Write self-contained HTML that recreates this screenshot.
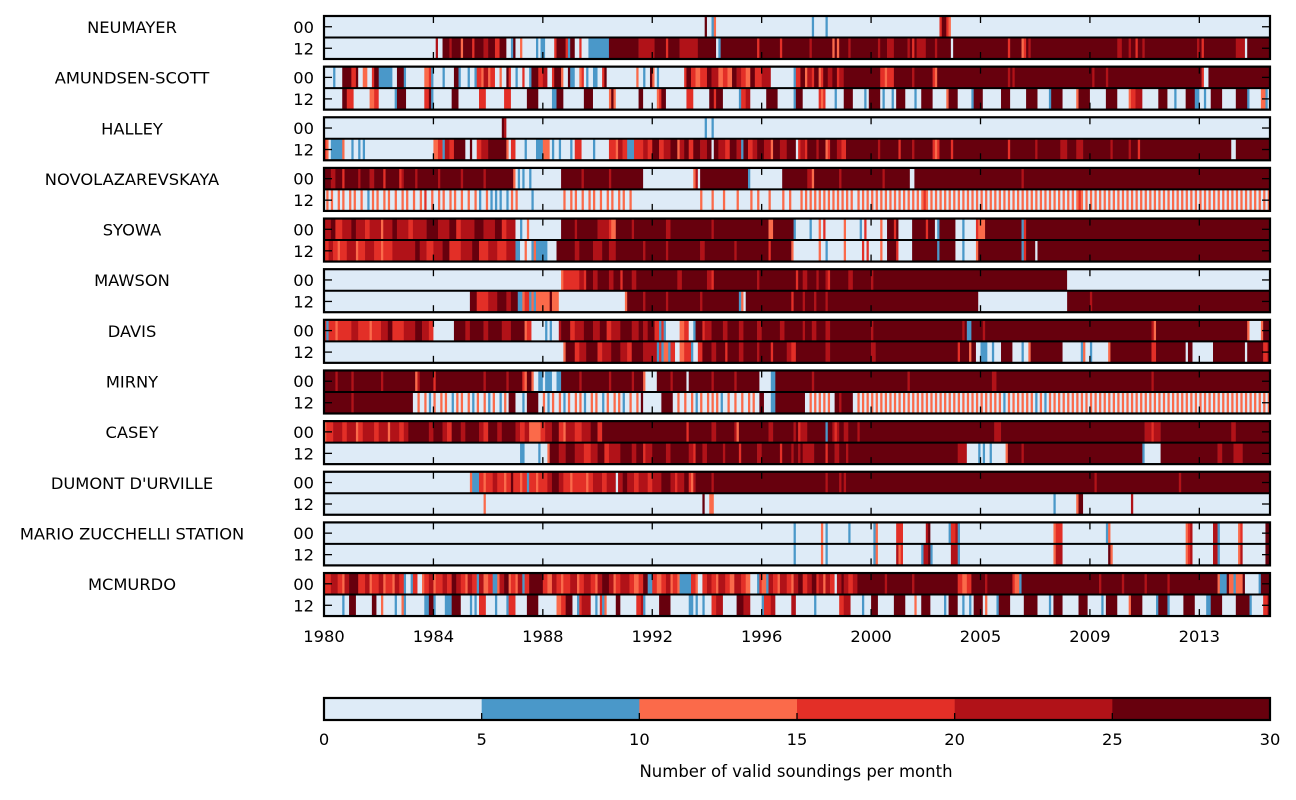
<!DOCTYPE html>
<html><head><meta charset="utf-8"><style>
html,body{margin:0;padding:0;background:#fff;}
svg{display:block;font-family:"DejaVu Sans","Liberation Sans",sans-serif;}
</style></head><body>
<svg id="chart" width="1296" height="800" viewBox="0 0 1296 800" xmlns="http://www.w3.org/2000/svg">
<g id="panels"></g>
<g id="xaxis"></g>
<g id="cbar"></g>
<text x="796" y="777" text-anchor="middle" font-size="16.5">Number of valid soundings per month</text>
</svg>
<script>
const stations = ["NEUMAYER","AMUNDSEN-SCOTT","HALLEY","NOVOLAZAREVSKAYA","SYOWA","MAWSON","DAVIS","MIRNY","CASEY","DUMONT D'URVILLE","MARIO ZUCCHELLI STATION","MCMURDO"];
const rowLabels = ["00","12"];
const xTickLabels = ["1980","1984","1988","1992","1996","2000","2005","2009","2013"];
const xTickMonths = [0,48,96,144,192,240,288,336,384];
const totalMonths = 415;
const binColors = ["#deebf7","#4a98c9","#fb6a4a","#e32f27","#b11218","#67000d"];
const cbarTicks = [0,5,10,15,20,25,30];
// run segments: "startMonth bin" (value holds until next start)
const series00 = [
"0 0,167 5,168 0,170 1,171 2,172 0,214 1,215 0,220 1,221 0,270 3,271 5,273 3,274 2,275 0",
"0 0,4 1,5 0,8 5,12 3,14 5,15 0,17 2,19 0,21 3,22 5,24 1,30 0,32 5,35 1,36 0,44 2,46 3,47 1,48 0,52 1,53 0,57 5,59 1,60 0,63 1,64 0,66 1,67 3,69 2,70 4,72 2,73 3,75 0,77 2,78 0,80 5,81 3,82 0,84 1,85 0,87 3,88 0,90 1,91 5,94 3,96 4,98 0,100 3,101 5,104 2,105 0,107 5,108 1,110 0,112 2,113 3,114 0,115 1,116 0,118 1,120 0,122 3,123 5,124 0,137 2,138 0,140 1,141 0,143 5,144 2,145 0,146 1,147 0,158 3,159 5,161 3,163 2,165 3,168 5,170 4,173 2,175 3,177 2,179 5,181 4,183 3,185 2,187 5,189 3,192 4,196 0,206 1,207 3,209 5,211 2,212 4,214 3,215 5,217 2,218 3,219 5,221 4,223 5,225 3,226 4,228 5,244 3,246 2,247 3,250 5,258 4,259 5,267 3,268 2,269 5,300 4,301 5,302 4,303 5,337 4,338 5,343 4,344 5,385 3,386 0,388 5",
"0 0,78 5,79 4,80 0,167 1,168 0,170 1,171 0",
"0 5,3 4,5 5,8 3,9 5,15 4,16 5,20 4,22 5,26 3,27 5,33 3,34 4,35 5,40 4,41 5,50 4,51 5,60 4,61 5,70 4,71 5,83 2,84 0,85 1,86 0,87 1,88 0,90 1,91 0,104 5,113 4,114 5,125 4,126 5,140 0,162 2,163 4,164 0,165 5,186 1,187 0,201 5,212 4,214 2,215 5,226 4,227 5,245 4,246 5,257 0,259 5,306 4,307 5",
"0 4,3 5,5 3,8 4,12 5,14 4,18 3,20 4,25 2,26 4,30 5,32 4,37 3,39 4,45 5,50 4,55 5,58 3,60 4,66 5,70 4,75 5,78 3,80 4,84 0,86 1,87 0,89 2,90 0,104 5,110 4,111 5,120 4,125 3,126 2,128 5,135 4,136 5,150 4,152 5,170 4,171 5,195 2,197 5,206 1,207 0,213 1,214 0,217 2,218 0,219 3,220 0,228 2,229 0,235 1,236 0,237 3,238 0,244 2,245 0,247 5,250 3,251 5,252 0,258 5,264 3,265 5,268 0,269 1,270 5,277 0,280 1,281 0,286 3,287 2,290 5,306 1,307 3,308 5",
"0 0,104 2,105 3,112 4,114 3,115 5,118 4,120 5,125 4,127 5,130 3,131 5,135 4,137 5,155 4,157 5,168 4,170 3,171 5,190 4,191 5,207 3,208 5,210 4,212 5,216 4,217 5,220 4,221 3,222 5,230 4,232 5,240 4,241 5,326 0",
"0 3,1 1,2 3,5 2,6 3,12 4,15 3,20 2,21 3,25 4,28 5,30 3,35 4,40 5,43 4,46 3,48 0,57 5,62 4,64 5,70 4,72 5,78 4,82 5,88 2,89 3,91 0,97 1,98 0,99 1,100 0,103 4,104 5,108 3,110 4,114 5,118 4,121 5,124 3,126 4,130 5,135 4,138 5,140 4,142 5,145 3,147 1,148 3,149 1,150 0,156 2,158 3,160 0,162 1,163 5,166 3,167 4,170 5,175 4,177 5,182 4,184 5,190 4,192 5,200 4,202 5,210 4,211 5,214 4,216 5,220 4,222 5,240 4,241 5,280 4,281 5,282 1,284 5,289 4,290 5,363 4,364 2,365 5,405 2,406 0,411 2,412 5",
"0 5,5 4,6 5,12 4,13 5,25 4,26 5,40 2,41 4,42 5,48 3,49 5,70 4,71 5,80 4,81 5,87 3,88 2,89 5,91 2,92 0,94 1,96 0,97 1,100 0,102 1,104 5,112 4,113 5,125 4,126 5,135 4,136 5,140 2,141 0,146 5,152 4,153 5,159 0,160 5,170 4,171 5,180 4,181 5,191 0,196 1,198 5,214 4,215 5,256 4,257 5,293 4,295 5,363 4,364 5",
"0 2,1 3,4 4,8 3,10 4,14 2,15 3,17 4,22 3,24 4,28 2,29 4,33 3,35 4,37 5,46 4,48 5,52 4,54 3,56 5,60 4,62 5,68 4,70 3,72 5,76 4,78 5,84 4,86 3,88 4,90 2,95 3,97 4,100 5,103 3,105 2,106 4,110 3,113 4,117 5,120 3,122 5,159 3,160 5,170 4,172 5,180 4,181 2,182 5,195 4,197 5,206 4,207 5,208 3,209 4,212 5,220 1,221 5,223 4,224 3,225 4,226 5,228 4,230 5,234 4,235 5,294 4,297 5,360 4,363 3,364 4,367 5,398 4,400 5",
"0 0,64 2,65 1,68 3,70 2,71 3,74 4,76 3,79 2,80 3,82 5,83 3,86 2,87 3,89 1,90 3,93 2,94 3,98 4,100 5,103 4,105 3,108 2,109 3,115 2,116 3,118 4,122 3,124 4,128 0,129 4,131 5,133 4,136 3,138 4,142 3,144 4,148 5,152 4,154 3,155 4,158 5,160 3,161 2,162 4,163 5,170 4,171 5,220 4,221 5,226 4,227 5,228 4,229 5,338 4,339 5,375 4,376 5",
"0 0,206 1,207 0,218 2,219 0,220 1,221 0,230 1,231 0,241 1,242 2,243 0,251 3,254 0,264 4,265 5,266 0,274 1,275 3,277 4,278 1,279 0,320 2,321 3,324 0,343 1,344 2,345 0,378 2,379 3,380 4,381 0,390 4,392 1,393 0,401 2,402 3,403 0,413 5",
"0 3,3 4,6 3,8 2,9 4,11 5,15 3,18 4,20 2,21 3,24 4,26 2,27 3,30 2,31 4,33 3,35 1,36 0,38 1,39 3,41 0,43 2,44 3,46 4,48 2,49 3,52 4,54 3,56 5,58 4,60 3,62 2,63 4,65 3,67 1,68 4,70 2,72 3,74 1,76 2,77 4,79 5,81 2,82 3,84 2,85 4,87 1,88 3,90 5,96 3,98 2,100 4,102 3,104 2,105 3,108 4,111 2,112 3,114 4,117 3,119 2,120 4,122 5,125 4,127 2,128 3,130 4,134 3,136 2,138 3,140 5,142 1,144 3,146 2,148 3,150 4,152 2,153 3,155 2,156 1,161 3,163 2,164 0,166 3,168 4,170 3,172 2,173 4,176 3,178 2,180 4,183 3,185 2,187 0,190 1,191 3,192 2,194 1,195 4,197 3,199 2,200 4,203 3,205 2,206 4,208 5,210 3,212 4,214 5,216 3,217 4,219 2,220 4,222 3,224 0,225 4,227 5,228 4,230 3,232 4,234 5,246 4,247 5,258 4,259 5,278 3,280 2,282 3,284 5,290 4,291 5,302 3,303 2,305 1,306 5,340 4,341 5,350 4,351 5,360 4,361 5,370 4,371 5,392 2,393 1,396 5,397 2,399 1,400 2,403 5,404 0,410 1,411 5"
];
const series12 = [
"0 0,49 4,50 0,52 5,55 4,56 5,60 2,61 5,65 3,66 5,70 4,72 5,75 3,77 5,80 0,82 1,83 5,84 0,86 2,87 0,93 1,94 0,95 1,97 0,101 3,102 5,106 3,107 1,108 5,110 0,112 3,113 0,116 1,125 5,138 4,145 5,150 3,151 5,156 4,164 5,172 0,173 1,174 5,190 3,191 5,200 3,201 5,213 4,214 5,223 2,224 5,225 2,226 5,230 4,231 5,243 4,244 5,247 4,250 5,256 4,257 5,258 3,259 5,260 4,264 5,268 4,269 5,275 0,276 5,300 3,301 5,306 2,307 3,308 5,309 4,310 5,348 4,350 5,353 4,354 5,356 3,357 5,359 4,360 5,383 4,384 5,385 3,386 5,400 4,404 0,405 5",
"0 0,8 5,10 3,13 0,20 2,22 3,24 0,31 1,32 5,36 0,44 3,46 5,47 1,48 0,56 5,59 0,68 3,71 0,79 3,82 0,89 5,94 0,100 1,102 5,105 0,114 5,118 0,125 2,126 5,127 2,128 0,138 5,140 0,146 2,147 3,148 5,150 0,159 3,162 0,169 5,171 3,172 5,175 0,182 1,183 3,185 4,187 0,194 5,199 0,206 1,207 5,210 0,217 3,218 2,219 3,220 0,224 1,225 0,228 5,232 0,237 1,238 0,239 5,244 0,245 1,246 0,249 1,250 0,251 5,255 0,259 1,260 0,262 5,267 0,273 2,274 5,278 0,284 1,285 5,289 0,297 5,301 0,308 5,313 0,318 1,319 5,324 0,330 2,331 5,336 0,343 5,348 0,353 2,354 3,356 4,359 0,366 5,370 0,373 1,374 0,378 5,382 1,384 0,386 1,387 0,389 5,394 0,400 5,405 1,406 0,411 2,413 1,414 0",
"0 3,1 2,2 0,3 1,8 2,9 0,12 1,13 0,15 1,16 0,17 1,18 0,48 2,50 3,52 1,53 4,55 3,57 5,62 0,64 5,65 0,67 3,69 4,72 5,80 2,81 0,82 3,84 0,88 1,89 0,93 1,96 2,99 0,100 1,101 0,103 1,104 0,108 1,109 0,110 3,113 0,118 1,119 0,125 3,128 2,129 4,131 3,133 1,136 3,140 4,142 3,144 5,147 3,149 4,152 5,155 2,156 4,158 5,160 3,162 5,165 4,168 5,170 0,171 5,173 4,176 3,178 5,181 4,183 1,184 5,186 3,188 4,190 5,193 4,196 2,197 5,200 4,203 5,207 0,208 3,209 4,211 3,212 5,216 4,217 5,220 2,221 3,222 5,225 4,227 3,229 5,243 4,244 5,252 3,253 5,258 4,259 5,267 3,268 2,269 3,270 5,275 3,276 5,300 3,301 5,312 4,313 5,323 4,326 5,330 4,333 5,345 4,346 5,353 4,354 5,357 3,358 5,398 0,400 5",
"0 0",
"0 3,2 4,4 3,6 2,7 3,10 4,14 2,15 3,18 4,22 3,25 2,26 3,30 4,40 5,42 4,45 3,48 4,52 5,55 3,60 4,65 5,68 3,72 4,76 3,80 4,84 1,86 0,88 2,89 0,91 1,92 2,93 1,98 0,102 5,110 4,112 5,118 4,122 5,125 4,128 5,140 4,141 5,150 4,151 5,165 4,167 5,180 4,181 5,195 3,196 5,205 2,206 0,217 2,218 0,220 1,221 0,228 2,229 0,236 3,237 0,238 3,239 0,244 2,245 0,247 5,251 3,252 0,258 5,269 1,270 5,277 0,280 1,281 0,286 2,287 5,306 1,307 3,308 5,312 0,313 5",
"0 0,64 5,67 3,72 4,76 5,80 4,82 5,85 1,87 2,88 3,90 1,91 2,92 1,93 2,99 5,100 2,103 0,132 2,133 5,140 4,141 5,150 4,151 5,165 4,166 5,182 1,183 2,184 0,185 5,205 3,206 5,210 4,211 5,215 4,216 5,220 4,221 5,287 0,326 5,336 4,337 5",
"0 0,105 2,106 5,110 3,112 4,115 5,120 3,122 4,126 5,130 4,133 3,135 5,140 4,146 1,147 3,148 1,149 2,151 1,152 3,154 0,156 2,158 3,161 1,162 0,164 3,166 5,170 4,172 5,176 3,177 5,182 4,184 5,190 4,191 5,196 3,197 5,203 4,205 3,207 5,220 4,222 5,240 4,242 5,278 3,279 5,283 2,284 5,286 0,288 1,291 0,293 1,294 0,297 5,302 0,306 1,307 0,309 2,310 5,324 0,332 1,333 2,334 0,336 1,337 0,344 2,345 5,363 3,365 5,378 0,379 5,381 0,390 5,404 0,405 5,412 3,414 5",
"0 5,12 4,13 5,39 0,81 5,84 0,87 1,88 0,89 5,94 0,139 5,140 0,148 5,153 0,174 1,175 0,191 5,193 0,196 1,198 5,211 0,224 5,226 4,227 5,232 0",
"0 0,86 1,88 0,94 1,95 0,98 2,99 5,103 4,106 5,110 4,114 3,117 4,120 5,123 3,125 4,130 5,135 4,137 5,140 3,141 4,144 5,150 4,152 5,160 4,162 3,163 5,166 4,168 5,175 4,176 5,182 3,183 5,190 4,192 5,200 3,201 5,205 4,206 5,208 4,209 5,210 4,215 5,220 3,221 5,224 4,226 5,229 4,230 5,278 4,282 0,287 1,288 0,289 1,290 0,292 1,293 0,299 2,300 5,306 4,307 5,359 1,360 0,367 5,392 4,394 5,399 4,403 5",
"0 0,70 2,71 0,166 5,167 0,169 2,171 0,320 1,321 0,330 2,331 5,333 0,354 4,355 0",
"0 0,206 1,207 0,218 2,219 0,220 1,221 0,241 1,242 2,243 0,251 4,252 2,253 3,254 0,262 1,263 4,265 5,266 1,267 0,275 4,278 1,279 0,320 2,321 4,324 0,344 5,345 2,346 0,378 2,379 3,380 4,381 0,390 4,392 1,393 0,401 2,402 4,403 0,413 5",
"0 0,8 1,9 0,11 5,14 0,21 5,23 0,25 2,26 0,31 1,32 0,34 2,35 1,36 0,44 1,46 5,48 1,49 0,53 1,56 5,60 0,64 1,65 0,66 1,67 0,68 3,71 0,75 1,76 0,80 1,81 3,84 0,89 5,94 0,102 2,104 3,106 5,109 0,111 1,112 3,113 4,117 0,119 1,120 0,121 3,122 1,123 2,124 0,128 5,130 0,137 3,139 4,140 1,141 0,147 5,152 0,160 1,162 0,163 1,164 0,166 1,167 0,170 3,172 4,175 0,181 5,184 4,187 0,192 1,193 3,196 4,198 0,205 4,207 0,215 1,216 0,226 3,228 4,231 0,236 1,237 0,240 5,243 0,250 5,255 0,259 2,260 0,262 5,266 0,272 1,273 0,274 5,278 0,280 1,281 0,283 1,284 0,285 5,289 0,290 2,291 0,295 1,296 5,301 0,307 5,313 0,318 1,319 0,320 5,324 0,331 5,335 0,341 1,342 0,343 5,348 0,353 2,354 5,359 0,365 1,366 5,370 1,371 0,377 5,382 0,387 1,389 5,394 0,400 5,406 1,407 0,412 3,414 5"
];
// single-month stripes: [stationIndex, rowIndex, bin, months]
const novoOrange = [1,3,6,8,11,13,16,21,23,26,28,31,34,36,39,42,47,50,52,55,57,60,63,66,71,82,84,105,108,110,113,116,118,121,124,126,129,131,134,165,170,175,181,187,190,195,201,204,209,211,213,215,217,219,221,223,225,227,229,231,234,236,238,240,242,244,246,248,250,252,254,256,258,260,262,264,266,268,270,272,274,276,278,280,282,284,286,288,290,292,294,296,298,300,302,304,306,308,310,312,314,316,318,320,322,324,326,328,330,332,334,336,338,340,342,344,346,348,350,352,354,356,358,360,362,364,366,368,370,372,374,376,378,380,382,384,386,388,390,392,394,396,398,400,402,404,406,408,410,412,414];
const novoBlue = [19,68,73,75,77,80,91];
const novoRed = [44,263,331];
const mirnyOrange = [41,44,48,51,53,58,60,63,67,70,74,79,96,100,103,107,110,112,117,119,124,127,129,134,137,155,158,161,165,168,170,172,177,180,183,186,188,213,215,217,219,221,234,236,238,240,242,244,246,248,250,252,254,256,258,260,262,264,266,268,270,272,274,276,278,280,282,284,286,288,290,292,294,296,300,302,304,306,308,310,314,318,320,322,324,326,328,330,332,334,336,338,340,342,344,346,348,350,352,354,356,358,360,362,364,366,368,370,372,374,376,378,380,382,384,386,388,390,392,394,396,398,400,402,404,406,408,410,412,414];
const mirnyBlue = [46,56,65,72,77,98,105,114,122,131,163,298,312,316];
const overlays = [[3,1,2,novoOrange],[3,1,1,novoBlue],[3,1,3,novoRed],[7,1,2,mirnyOrange],[7,1,1,mirnyBlue]];

const NS = "http://www.w3.org/2000/svg";
const X0 = 324, X1 = 1270, PANEL0 = 16, PSTEP = 50.64, PH = 43;
function xScale(m){ return X0 + (X1 - X0) * m / totalMonths; }
function mk(tag, attrs, parent){ const e = document.createElementNS(NS, tag); for (const k in attrs) e.setAttribute(k, attrs[k]); parent.appendChild(e); return e; }
function parseRow(str){
  const arr = new Array(totalMonths).fill(0);
  const segs = str.split(",").map(s => s.trim().split(/\s+/).map(Number));
  for (let i = 0; i < segs.length; i++){
    const s = segs[i][0], b = segs[i][1];
    const e = i + 1 < segs.length ? segs[i+1][0] : totalMonths;
    for (let m = s; m < e && m < totalMonths; m++) arr[m] = b;
  }
  return arr;
}
const panels = document.getElementById("panels");
const grid = stations.map((s, i) => [parseRow(series00[i]), parseRow(series12[i])]);
overlays.forEach(o => { o[3].forEach(m => { if (m < totalMonths) grid[o[0]][o[1]][m] = o[2]; }); });

stations.forEach((name, i) => {
  const top = PANEL0 + i * PSTEP;
  const g = mk("g", {}, panels);
  
  
  const lab = mk("text", {x: 132, y: top + 17, "text-anchor": "middle", "font-size": 16.3}, g);
  
  
  lab.textContent = name;
  for (let r = 0; r < 2; r++){
    const y0 = top + r * (PH / 2), h = PH / 2;
    const arr = grid[i][r];
    let m = 0;
    while (m < totalMonths){
      let e = m; while (e < totalMonths && arr[e] === arr[m]) e++;
      const rc = mk("rect", {x: xScale(m), y: y0, width: xScale(e) - xScale(m) + 0.3, height: h, fill: binColors[arr[m]]}, g);
      
      
      m = e;
    }
    const rl = mk("text", {x: 314, y: y0 + h/2 + 6, "text-anchor": "end", "font-size": 16.3}, g);
    
    
    rl.textContent = rowLabels[r];
    const yc = y0 + h/2;
    mk("line", {x1: X0, x2: X0 + 8, y1: yc, y2: yc, stroke: "#000", "stroke-width": 1.3}, g);
    mk("line", {x1: X1 - 8, x2: X1, y1: yc, y2: yc, stroke: "#000", "stroke-width": 1.3}, g);
  }
  xTickMonths.forEach(tm => {
    const x = xScale(tm);
    mk("line", {x1: x, x2: x, y1: top, y2: top + 7, stroke: "#000", "stroke-width": 1.3}, g);
    mk("line", {x1: x, x2: x, y1: top + PH - 7, y2: top + PH, stroke: "#000", "stroke-width": 1.3}, g);
  });
  mk("line", {x1: X0, x2: X1, y1: top + PH/2, y2: top + PH/2, stroke: "#000", "stroke-width": 2}, g);
  const bd = mk("rect", {x: X0, y: top, width: X1 - X0, height: PH, fill: "none", stroke: "#000", "stroke-width": 2.2}, g);
  
  
});

const xa = document.getElementById("xaxis");
xTickLabels.forEach((t, i) => {
  const tx = mk("text", {x: xScale(xTickMonths[i]), y: 642, "text-anchor": "middle", "font-size": 16.3}, xa);
  
  
  tx.textContent = t;
});

const cb = document.getElementById("cbar");
const CB0 = 698, CBH = 22;
function cScale(v){ return X0 + (X1 - X0) * v / 30; }
for (let b = 0; b < 6; b++){
  const r = mk("rect", {x: cScale(cbarTicks[b]), y: CB0, width: cScale(cbarTicks[b+1]) - cScale(cbarTicks[b]) + 0.3, height: CBH, fill: binColors[b]}, cb);
  
  
}
cbarTicks.forEach(v => {
  const x = cScale(v);
  mk("line", {x1: x, x2: x, y1: CB0 + CBH - 7, y2: CB0 + CBH, stroke: "#000", "stroke-width": 1.3}, cb);
  const t = mk("text", {x: x, y: 745, "text-anchor": "middle", "font-size": 16.3}, cb);
  
  
  t.textContent = String(v);
});
mk("rect", {x: X0, y: CB0, width: X1 - X0, height: CBH, fill: "none", stroke: "#000", "stroke-width": 2.2}, cb);
</script>
</body></html>
